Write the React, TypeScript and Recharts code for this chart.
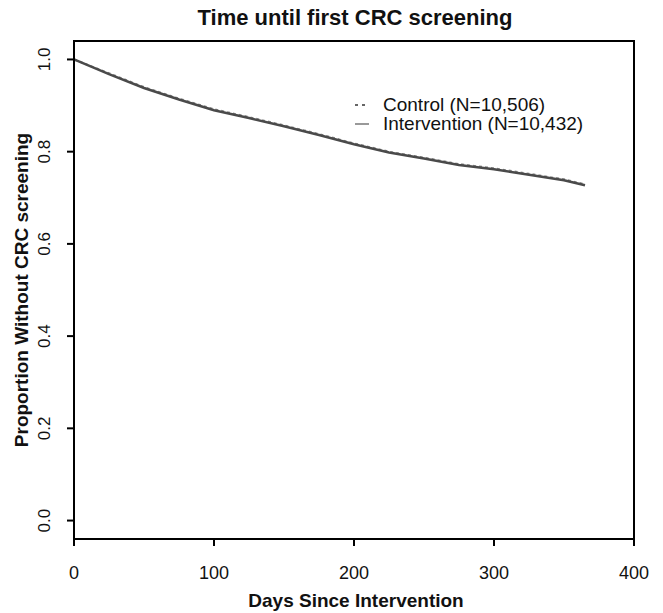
import React from "react";
import {
  LineChart,
  Line,
  XAxis,
  YAxis,
  Legend,
  ReferenceArea,
} from "recharts";

// days since intervention and Kaplan-Meier proportions
const days = [0, 25, 50, 75, 100, 125, 150, 175, 200, 225, 250, 275, 300, 325, 350, 365];
const control = [1.0, 0.97, 0.94, 0.915, 0.892, 0.875, 0.857, 0.838, 0.818, 0.8, 0.787, 0.773, 0.764, 0.752, 0.74, 0.729];
const intervention = [1.0, 0.968, 0.938, 0.913, 0.89, 0.873, 0.855, 0.836, 0.816, 0.798, 0.785, 0.771, 0.762, 0.75, 0.738, 0.727];

const xTicks = [0, 100, 200, 300, 400];
const yTicks = [0, 0.2, 0.4, 0.6, 0.8, 1.0];

const controlLabel = "Control (N=10,506)";
const interventionLabel = "Intervention (N=10,432)";

const FONT = "'Liberation Sans', Arial, sans-serif";

const data = days.map((d, i) => ({
  day: d,
  control: control[i],
  intervention: intervention[i],
}));

const XTick = (props: any) => {
  const { x, payload } = props;
  return (
    <text x={x} y={579} textAnchor="middle" fontSize={18} fontFamily={FONT} fill="#111">
      {payload.value}
    </text>
  );
};

const YTick = (props: any) => {
  const { y, payload } = props;
  return (
    <text
      x={50}
      y={y}
      transform={`rotate(-90, 50, ${y})`}
      textAnchor="middle"
      fontSize={17}
      fontFamily={FONT}
      fill="#111"
    >
      {Number(payload.value).toFixed(1)}
    </text>
  );
};

const LegendBox = () => (
  <div style={{ fontFamily: FONT, fontSize: 19, color: "#111", lineHeight: "19px" }}>
    <div style={{ display: "flex", alignItems: "center" }}>
      <svg width={39} height={10}>
        <line x1={11} y1={5} x2={25} y2={5} stroke="#666" strokeWidth={2} strokeDasharray="3 4" />
      </svg>
      <span>{controlLabel}</span>
    </div>
    <div style={{ display: "flex", alignItems: "center" }}>
      <svg width={39} height={10}>
        <line x1={11} y1={5} x2={25} y2={5} stroke="#777" strokeWidth={1.5} />
      </svg>
      <span>{interventionLabel}</span>
    </div>
  </div>
);

export default function App() {
  return (
    <div style={{ position: "absolute", left: 0, top: 0, background: "#fff" }}>
      <LineChart
        width={663}
        height={613}
        data={data}
        margin={{ top: 41, right: 29, bottom: 24, left: 14 }}
      >
        <XAxis
          dataKey="day"
          type="number"
          domain={[0, 400]}
          ticks={xTicks}
          tickSize={7}
          tick={<XTick />}
          axisLine={{ stroke: "#000", strokeWidth: 2 }}
          tickLine={{ stroke: "#000", strokeWidth: 2 }}
          height={50}
        />
        <YAxis
          type="number"
          domain={[-0.04, 1.04]}
          ticks={yTicks}
          allowDataOverflow
          tickSize={7}
          tick={<YTick />}
          axisLine={{ stroke: "#000", strokeWidth: 2 }}
          tickLine={{ stroke: "#000", strokeWidth: 2 }}
          width={60}
        />
        <ReferenceArea
          x1={0}
          x2={400}
          y1={-0.04}
          y2={1.04}
          fill="none"
          stroke="#000"
          strokeWidth={2}
          ifOverflow="extendDomain"
        />
        <Line
          type="linear"
          dataKey="control"
          stroke="#888"
          strokeWidth={2}
          strokeDasharray="3 3"
          dot={false}
          isAnimationActive={false}
        />
        <Line
          type="linear"
          dataKey="intervention"
          stroke="#4a4a4a"
          strokeWidth={2.5}
          dot={false}
          isAnimationActive={false}
        />
        <Legend
          layout="vertical"
          align="center"
          verticalAlign="middle"
          content={<LegendBox />}
          wrapperStyle={{ left: 344, top: 95, width: 290 }}
        />
        <text x={355} y={25} textAnchor="middle" fontSize={22} fontWeight="bold" fontFamily={FONT} fill="#111">
          Time until first CRC screening
        </text>
        <text x={356} y={607} textAnchor="middle" fontSize={19} fontWeight="bold" fontFamily={FONT} fill="#111">
          Days Since Intervention
        </text>
        <text
          x={28}
          y={290}
          transform="rotate(-90, 28, 290)"
          textAnchor="middle"
          fontSize={19}
          fontWeight="bold"
          fontFamily={FONT}
          fill="#111"
        >
          Proportion Without CRC screening
        </text>
      </LineChart>
    </div>
  );
}
